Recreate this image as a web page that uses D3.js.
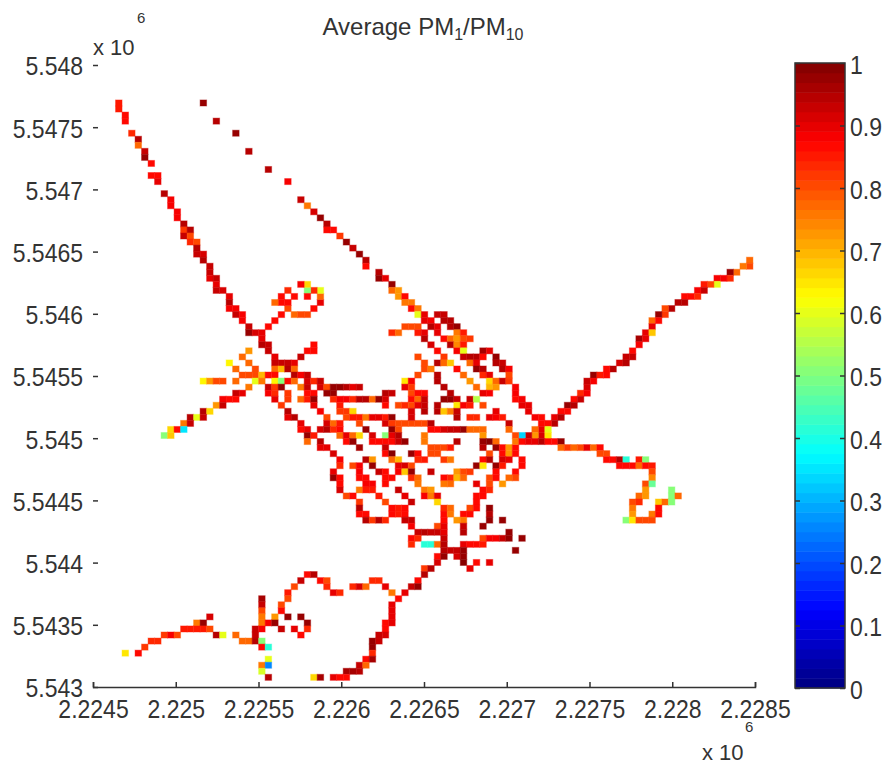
<!DOCTYPE html>
<html lang="en">
<head>
  <meta charset="UTF-8">
  <title>Average PM1/PM10</title>
  <style>
    body { margin: 0; background: #fff; }
    text { font-family: "Liberation Sans", Arial, sans-serif; fill: #333; }
    .axis path, .axis line { stroke: #333; stroke-width: 1.5px; }
  </style>
</head>
<body>
  <svg id="chart" width="883" height="765"></svg>

  <script src="https://d3js.org/d3.v7.min.js"></script>

  <script>
    // tick values
    const xTicks = [2224500, 2225000, 2225500, 2226000, 2226500, 2227000, 2227500, 2228000, 2228500];
    const yTicks = [5543000, 5543500, 5544000, 5544500, 5545000, 5545500, 5546000, 5546500, 5547000, 5547500, 5548000];
    const barTicks = [0, 0.1, 0.2, 0.3, 0.4, 0.5, 0.6, 0.7, 0.8, 0.9, 1];

    // grid cells as [column, row, PM1/PM10]
    const gridEast0 = 2224479, gridEastStep = 39.3;
    const gridNorth0 = 5547719, gridNorthStep = 48.6;

    const northWestRoad = [
      [4,0,.85],[4,1,.85],[5,2,.87],[5,3,.87],[6,5,.83],[7,6,.95],[7,7,.78],[8,8,.93],[8,9,.97],[9,10,.87],
      [9,12,.87],[10,12,.87],[10,13,.9],[11,15,.95],[12,16,.88],[12,17,.88],[13,18,.89],[13,19,.89],
      [14,20,.95],[14,21,.82],[14,22,.93],[15,21,.95],[15,22,.8],[15,23,.83],[16,23,.8],[16,24,.95],[16,25,.93],
      [17,25,.92],[17,26,.95],[18,27,.93],[18,28,.93],[18,29,.9],[19,29,.93],[19,30,.9],[19,31,.93],[20,31,.92],
      [21,32,.9],[21,33,.95],[21,34,.88],[22,34,.88],[22,35,.93],[23,35,.88],[23,36,.88],[24,37,.93],[24,38,.98],
      [25,38,.92],[26,38,.9],[26,39,.9],[26,40,.95],[27,40,.93]
    ];
    const northRoad = [
      [17,0,.98],[19,3,.95],[22,5,.98],[24,8,.95],[27,11,.95],[30,13,.88],[32,16,.93],[33,17,.76],[34,18,.92],
      [35,19,.98],[36,20,.95],[36,21,.87],[37,21,.87],[38,22,.82],[39,23,.97],[40,24,.93],[41,25,.97],[42,26,.95],
      [42,27,.87],[44,28,.95],[44,29,.98],[45,29,.9],[46,30,.97],[46,31,.78],[47,31,.73],[47,32,.73],[48,32,.87],
      [48,33,.75],[49,33,.76],[49,34,.87],[50,34,.75],[50,35,.6],[51,35,.9]
    ];
    const hillLoop = [
      [27,37,.87],[28,36,.87],[29,35,.87],[30,34,.8],[31,35,.78],[32,35,.8],[33,35,.8],[34,34,.87],[35,33,.9],
      [35,32,.78],[35,31,.6],[34,31,.83],[33,31,.5],[33,30,.66],[32,30,.88],[33,32,.87],[31,32,.87],[30,31,.84],
      [29,32,.87],[29,33,.87],[30,33,.87],[28,33,.77]
    ];
    const westMesh = [
      [34,40,.87],[24,41,.72],[27,41,.93],[33,41,.87],[34,41,.87],[23,42,.77],[28,42,.9],[32,42,.93],
      [21,43,.63],[24,43,.78],[28,43,.93],[29,43,.93],[30,43,.93],[31,43,.9],
      [22,44,.77],[25,44,.8],[28,44,.78],[29,44,.7],[30,44,.95],[31,44,.77],
      [23,45,.8],[24,45,.8],[25,45,.8],[26,45,.7],[27,45,.87],[28,45,.87],[31,45,.95],[32,45,.88],[33,45,.93],
      [17,46,.63],[18,46,.72],[19,46,.8],[20,46,.8],[22,46,.78],[25,46,.6],[26,46,.75],[28,46,.63],[29,46,.5],
      [30,46,.87],[31,46,.77],[33,46,.92],[34,46,.83],[35,46,.93],
      [24,47,.75],[27,47,.93],[28,47,.82],[29,47,.97],[32,47,.75],[33,47,.93],[35,47,.92],[36,47,.8],[37,47,.98],
      [38,47,.98],[39,47,.95],[40,47,.9],[41,47,.93],
      [22,48,.93],[23,48,.9],[27,48,.88],[28,48,.83],[30,48,.82],[33,48,.87],[34,48,.87],[36,48,.98],[37,48,.98],
      [45,48,.95],[46,48,.93],
      [20,49,.88],[21,49,.87],[22,49,.87],[28,49,.9],[30,49,.82],[32,49,.78],[33,49,.85],[34,49,.97],[37,49,.83],
      [38,49,.88],[39,49,.88],[40,49,.83],[41,49,.95],[42,49,.95],[43,49,.77],[44,49,.97],[45,49,.92],
      [19,50,.72],[20,50,.93],[29,50,.82],[34,50,.9],[38,50,.85],[45,50,.87],[47,50,.8],
      [17,51,.95],[18,51,.66],[30,51,.95],[35,51,.88],[38,51,.82],[39,51,.82],[40,51,.66],
      [15,52,.95],[16,52,.6],[17,52,.93],[30,52,.9],[31,52,.95],[36,52,.8],[39,52,.8],[40,52,.85],[41,52,.85],
      [42,52,.75],[43,52,.9],[44,52,.9],[45,52,.85],[46,52,.98],
      [14,53,.75],[15,53,.93],[32,53,.9],[36,53,.92],
      [12,54,.66],[13,54,.87],[14,54,.35],[32,54,.87],[33,54,.9],
      [11,55,.5],[12,55,.68],[33,55,.98],[34,55,.85],[33,56,.77]
    ];
    const centreMesh = [
      [37,53,.78],[38,53,.85],[41,53,.8],[45,53,.92],[46,53,.82],[47,53,.8],[48,53,.8],[49,53,.8],[50,53,.8],[51,53,.8],[52,53,.95],[64,53,.93],
      [35,54,.92],[36,54,.95],[37,54,.83],[38,54,.87],[42,54,.98],[46,54,.97],[47,54,.8],[52,54,.87],[53,54,.87],[54,54,.92],[55,54,.93],[56,54,.93],[57,54,.98],[58,54,.78],[59,54,.78],[60,54,.77],[64,54,.77],
      [38,55,.78],[39,55,.9],[40,55,.78],[41,55,.66],[43,55,.92],[45,55,.5],[46,55,.9],[47,55,.95],[51,55,.75],[60,55,.72],
      [35,56,.95],[39,56,.87],[40,56,.97],[43,56,.87],[44,56,.87],[45,56,.87],[46,56,.87],[47,56,.93],[48,56,.97],[51,56,.75],[56,56,.95],[60,56,.97],[61,56,1],[62,56,.78],
      [35,57,.9],[36,57,.9],[41,57,.96],[45,57,.93],[52,57,.8],[53,57,.8],[54,57,.8],[55,57,.85],[60,57,.95],[62,57,.97],[63,57,.87],[64,57,.72],[65,57,.87],
      [37,58,.92],[45,58,.87],[46,58,1],[49,58,.98],[50,58,.87],[52,58,.8],[53,58,.8],[61,58,.8],[63,58,.87],[64,58,.72],[65,58,.87],
      [38,59,.88],[42,59,.95],[43,59,.73],[46,59,.78],[47,59,.7],[50,59,.83],[51,59,.85],[54,59,.82],[55,59,.75],[60,59,.87],[61,59,.95],[63,59,.92],[64,59,.9],[66,59,.87],
      [38,60,.83],[40,60,.8],[41,60,.88],[43,60,.98],[47,60,.9],[48,60,.92],[49,60,.8],[59,60,.97],[60,60,.65],[62,60,.97],[63,60,.85],[66,60,.87],
      [37,61,.9],[41,61,.88],[44,61,.93],[45,61,.87],[47,61,.88],[48,61,.68],[49,61,.97],[52,61,.93],[56,61,.72],[57,61,.8],[58,61,.82],[62,61,.87],[65,61,.87],
      [37,62,.97],[38,62,.87],[41,62,.87],[42,62,.87],[45,62,.87],[46,62,.87],[49,62,.83],[50,62,.77],[54,62,.87],[55,62,.83],[56,62,.7],[57,62,.77],[61,62,.8],[62,62,.87],[64,62,.78],[65,62,.8],
      [38,63,.87],[42,63,.88],[43,63,.88],[45,63,.87],[50,63,.75],[54,63,.75],[55,63,.77],[59,63,.9],[61,63,.8],[63,63,.72],
      [38,64,.92],[41,64,.75],[42,64,.85],[43,64,.85],[47,64,.93],[51,64,.75],[52,64,.73],[60,64,.87],[61,64,.83],
      [39,65,.8],[40,65,.87],[44,65,.85],[48,65,.9],[51,65,.88],[52,65,.75],[53,65,.9],[59,65,.87],[60,65,.87],
      [41,66,.82],[45,66,.8],[49,66,.93],[53,66,.66],[59,66,.87],
      [41,67,.95],[46,67,.87],[47,67,.85],[48,67,.87],[54,67,.83],[55,67,.77],[58,67,.8],[59,67,.87],[61,67,.98],
      [41,68,.87],[42,68,.87],[46,68,.87],[47,68,.85],[48,68,.87],[54,68,.87],[55,68,.75],[57,68,.87],[58,68,.87],[61,68,.95],
      [42,69,.95],[43,69,.82],[44,69,.95],[45,69,.83],[48,69,.93],[49,69,.93],[54,69,.87],[56,69,.72],[57,69,.75],[61,69,.98],[63,69,.97],
      [49,70,.88],[53,70,.8],[54,70,.9],[57,70,.93],[60,70,.97],
      [50,71,.93],[51,71,.95],[52,71,.93],[53,71,.93],[54,71,.9],[57,71,.95],[64,71,.98],
      [49,72,.87],[50,72,.83],[54,72,.93],[60,72,.8],[61,72,.88],[62,72,.88],[63,72,.93],[64,72,.97],[66,72,.98],
      [49,73,.83],[51,73,.42],[52,73,.42],[53,73,.77],[54,73,.95],[57,73,.9],[58,73,.87],[59,73,.87],[60,73,.85],
      [54,74,.95],[55,74,.93],[56,74,.93],[57,74,.97],[65,74,.97],
      [53,75,.87],[54,75,.97],[56,75,.92],[57,75,.98],
      [53,76,.92],[57,76,1],[59,76,.87],[61,76,.9],
      [51,77,.82],[52,77,.95],[58,77,.9],[51,78,.95]
    ];
    const northEastMesh = [
      [53,35,.93],[54,35,.93],[52,36,.88],[51,36,.9],[54,36,.95],[55,36,.95],
      [48,37,.8],[49,37,.8],[50,37,.8],[52,37,.95],[53,37,.9],[55,37,.95],[56,37,.97],
      [46,38,.83],[47,38,.77],[50,38,.85],[51,38,.9],[53,38,.9],[56,38,.75],[57,38,.85],
      [51,39,.95],[54,39,.87],[55,39,.78],[56,39,.72],[57,39,.8],[58,39,.82],
      [52,40,.92],[55,40,.95],[56,40,.74],[57,40,.85],
      [53,41,.87],[56,41,.88],[57,41,.6],[60,41,.96],[61,41,.9],
      [50,42,.8],[54,42,.82],[57,42,.93],[58,42,.95],[59,42,.95],[60,42,.87],[62,42,.97],
      [51,43,.8],[53,43,.95],[54,43,.78],[55,43,.68],[58,43,.77],[59,43,.9],[62,43,.95],[63,43,.93],
      [51,44,.8],[52,44,.76],[56,44,.87],[59,44,.97],[60,44,.95],[63,44,.95],[64,44,.88],
      [50,45,.8],[53,45,.95],[57,45,.78],[60,45,.83],[61,45,.9],[64,45,.8],
      [48,46,.65],[49,46,.88],[53,46,.95],[58,46,.73],[61,46,.66],[62,46,.78],[63,46,.93],[64,46,.82],
      [48,47,.9],[49,47,.82],[54,47,.95],[59,47,.77],[61,47,.7],[62,47,.72],[65,47,.88],
      [49,48,.8],[50,48,.87],[51,48,.87],[55,48,.95],[60,48,.9],[61,48,.88],[65,48,.88],
      [49,49,.87],[50,49,.77],[51,49,.93],[54,49,.97],[55,49,.97],[56,49,.93],[58,49,.93],[59,49,.55],[65,49,.87],[66,49,.88],
      [48,50,.83],[49,50,.8],[50,50,.9],[51,50,.93],[53,50,.95],[56,50,.65],[57,50,.88],[58,50,.85],[60,50,.8],[66,50,.9],[67,50,.9],
      [49,51,.92],[51,51,.95],[53,51,.95],[54,51,.68],[55,51,.75],[56,51,.93],[62,51,.9],[67,51,.9],
      [49,52,.92],[56,52,.95],[58,52,.83],[59,52,.84],[61,52,.9],[62,52,.88],[63,52,.85],[68,52,.88],[69,52,.87]
    ];
    const eastRoad = [
      [101,26,.78],[101,27,.8],[100,27,.75],[99,28,.77],[98,28,.97],[98,29,.83],[96,29,.88],[97,29,.88],[96,30,.6],
      [95,30,.8],[94,30,.85],[94,31,.93],[93,31,.88],[91,32,.87],[92,32,.87],[93,32,.83],[90,33,.95],[91,33,.95],
      [89,34,.95],[88,34,.8],[88,35,.82],[87,35,.97],[86,36,.77],[87,36,.87],[86,37,.9],[85,38,.9],[86,38,.68],
      [84,39,.96],[85,39,.9],[84,40,.88],[83,41,.87],[82,42,.93],[83,42,.93],[81,43,.92],[82,43,.95],[80,44,.95],
      [79,44,.87],[77,45,.97],[78,45,.85],[79,45,.87],[76,46,.93],[77,46,.88],[76,47,.92],[75,48,.83],[76,48,.88],
      [74,49,.87],[75,49,.93],[73,50,.97],[74,50,.95],[72,51,.87],[73,51,.87],[71,52,.9],[72,52,.95],[71,53,.95],
      [69,53,.87],[70,53,.87]
    ];
    const southEastRoad = [
      [69,54,.9],[69,55,.92],[70,54,.6],[70,55,.65],[68,54,.77],[68,55,.73],[67,55,.93],[66,55,.33],[65,55,.8],
      [65,56,.75],[66,56,.87],[67,56,.9],[68,56,.9],[69,56,.95],[70,56,.87],[71,56,.87],[72,56,.97],
      [72,57,.78],[73,57,.82],[74,57,.78],[75,57,.8],[76,57,.9],[77,57,.77],[78,57,.87],[78,58,.8],[79,58,.8],
      [79,59,.87],[80,59,.87],[81,59,.95],[82,59,.42],[84,59,.85],[85,59,.5],
      [81,60,.87],[82,60,.87],[83,60,.87],[84,60,.77],[85,60,.87],[86,60,.85],[86,61,.8],[86,62,.74],
      [85,63,.8],[86,63,.48],[85,64,.72],[89,64,.5],[84,65,.78],[85,65,.73],[89,65,.5],[90,65,.77],
      [83,66,.8],[84,66,.83],[87,66,.68],[88,66,.77],[89,66,.5],[83,67,.75],[87,67,.87],[83,68,.72],[86,68,.75],
      [87,68,.87],[82,69,.5],[83,69,.65],[84,69,.8],[85,69,.8],[86,69,.8]
    ];
    const southRoads = [
      [33,78,.87],[34,78,.95],[32,79,.93],[35,79,.87],[36,79,.8],[43,79,.83],[44,79,.83],[50,79,.87],
      [31,80,.8],[36,80,.84],[40,80,.83],[41,80,.92],[42,80,.77],[45,80,.9],[49,80,.93],[50,80,.97],
      [30,81,.85],[37,81,.9],[38,81,.83],[46,81,.76],[48,81,.9],[26,82,.96],[30,82,.8],[47,82,.87],
      [26,83,.93],[29,83,.8],[46,83,.9],[26,84,.8],[29,84,.87],[46,84,.9],
      [18,85,.92],[26,85,.75],[28,85,.73],[30,85,.97],[32,85,.97],[46,85,.9],
      [16,86,.75],[17,86,.97],[26,86,.75],[27,86,.88],[28,86,.97],[33,86,.97],[45,86,.87],[46,86,.9],
      [14,87,.85],[15,87,.85],[16,87,.85],[17,87,.85],[18,87,.8],[25,87,.93],[26,87,.88],[29,87,.93],[31,87,.9],[33,87,.83],[45,87,.87],
      [11,88,.82],[12,88,.88],[13,88,.8],[19,88,.95],[20,88,.6],[22,88,.78],[25,88,.93],[32,88,.87],[44,88,.93],[45,88,.92],
      [9,89,.83],[10,89,.83],[23,89,.78],[24,89,.78],[25,89,.95],[26,89,.5],[43,89,.97],[44,89,.93],
      [8,90,.82],[26,90,.87],[27,90,.42],[43,90,.97],[5,91,.65],[7,91,.87],[43,91,.83],
      [27,92,.6],[42,92,.87],[43,92,.96],[26,93,.75],[27,93,.25],[41,93,.93],[42,93,.78],
      [26,94,.58],[39,94,.96],[40,94,.96],[41,94,.95],[27,95,.95],[34,95,.66],[35,95,.96],[37,95,.9],[38,95,.87],[39,95,.87]
    ];

    const cells = [].concat(northWestRoad, northRoad, hillLoop, westMesh, centreMesh, northEastMesh, eastRoad, southEastRoad, southRoads);

    const svg = d3.select('#chart');

    const xScale = d3.scaleLinear().domain([2224500, 2228500]).range([93, 755]);
    const yScale = d3.scaleLinear().domain([5543000, 5548000]).range([687, 65]);
    const barScale = d3.scaleLinear().domain([0, 1]).range([688, 63]);

    // matlab jet with 64 levels
    function jet(v) {
      const level = Math.min(63, Math.floor(v * 64));
      const t = (level + 0.5) / 64;
      const ramp = d => Math.max(0, Math.min(1, 1.5 - Math.abs(4 * t - d)));
      return d3.rgb(ramp(3) * 255, ramp(2) * 255, ramp(1) * 255).formatHex();
    }

    const east = c => gridEast0 + c * gridEastStep;
    const north = r => gridNorth0 - r * gridNorthStep;

    // the soft stroke stands in for the blur of the scaled image
    svg.append('g').selectAll('rect')
      .data(cells)
      .enter().append('rect')
      .attr('x', d => xScale(east(d[0])))
      .attr('y', d => yScale(north(d[1])))
      .attr('width', d => xScale(east(d[0] + 1)) - xScale(east(d[0])))
      .attr('height', d => yScale(north(d[1] + 1)) - yScale(north(d[1])))
      .attr('fill', d => jet(d[2]))
      .attr('stroke', d => jet(d[2]))
      .attr('stroke-width', 1)
      .attr('stroke-opacity', 0.4);

    // tick labels in the reference are a bit taller than they are wide
    const stretch = (sel, dy) => sel.attr('font-size', 23).attr('y', 0)
      .attr('transform', `translate(0,${dy}) scale(1,1.14)`);

    // axes
    const xAxis = d3.axisBottom(xScale).tickValues(xTicks).tickSize(-5).tickFormat(d => d / 1e6);
    const yAxis = d3.axisLeft(yScale).tickValues(yTicks).tickSize(0).tickPadding(10).tickFormat(d => d / 1e6);

    const gx = svg.append('g').attr('class', 'axis').attr('transform', 'translate(0,687)').call(xAxis);
    stretch(gx.selectAll('text'), 12);

    const gy = svg.append('g').attr('class', 'axis').attr('transform', 'translate(93,0)').call(yAxis);
    gy.select('.domain').remove();
    gy.selectAll('.tick line').attr('x2', 5).attr('stroke-width', 2);
    stretch(gy.selectAll('text'), 1.5);

    // colour bar
    const levels = d3.range(64);
    svg.append('g').selectAll('rect')
      .data(levels)
      .enter().append('rect')
      .attr('x', 795)
      .attr('y', d => barScale((d + 1) / 64))
      .attr('width', 50)
      .attr('height', d => barScale(d / 64) - barScale((d + 1) / 64) + 0.5)
      .attr('fill', d => jet((d + 0.5) / 64));
    svg.append('rect')
      .attr('x', 795).attr('y', barScale(1))
      .attr('width', 50).attr('height', barScale(0) - barScale(1))
      .attr('fill', 'none').attr('stroke', '#333').attr('stroke-width', 1.5);

    const barAxis = d3.axisRight(barScale).tickValues(barTicks).tickSize(0).tickPadding(5).tickFormat(d => d);
    const gb = svg.append('g').attr('class', 'axis').attr('transform', 'translate(845,0)').call(barAxis);
    gb.select('.domain').remove();
    gb.selectAll('.tick line').attr('x2', -5).attr('stroke-width', 2).attr('stroke', '#222');
    gb.selectAll('.tick').append('line').attr('x1', -50).attr('x2', -45).attr('stroke-width', 2).attr('stroke', '#222');
    stretch(gb.selectAll('text'), 2);

    // title
    const title = svg.append('text').attr('x', 423).attr('y', 35).attr('text-anchor', 'middle').attr('font-size', 24);
    title.append('tspan').text('Average PM');
    title.append('tspan').text('1').attr('font-size', 16).attr('dy', 5);
    title.append('tspan').text('/PM').attr('dy', -5);
    title.append('tspan').text('10').attr('font-size', 16).attr('dy', 5);

    // exponent labels
    svg.append('text').attr('x', 93).attr('y', 55).attr('font-size', 22).text('x 10');
    svg.append('text').attr('x', 137).attr('y', 23).attr('font-size', 15).text('6');
    svg.append('text').attr('x', 702).attr('y', 760).attr('font-size', 22).text('x 10');
    svg.append('text').attr('x', 745).attr('y', 732).attr('font-size', 15).text('6');
  </script>
</body>
</html>
